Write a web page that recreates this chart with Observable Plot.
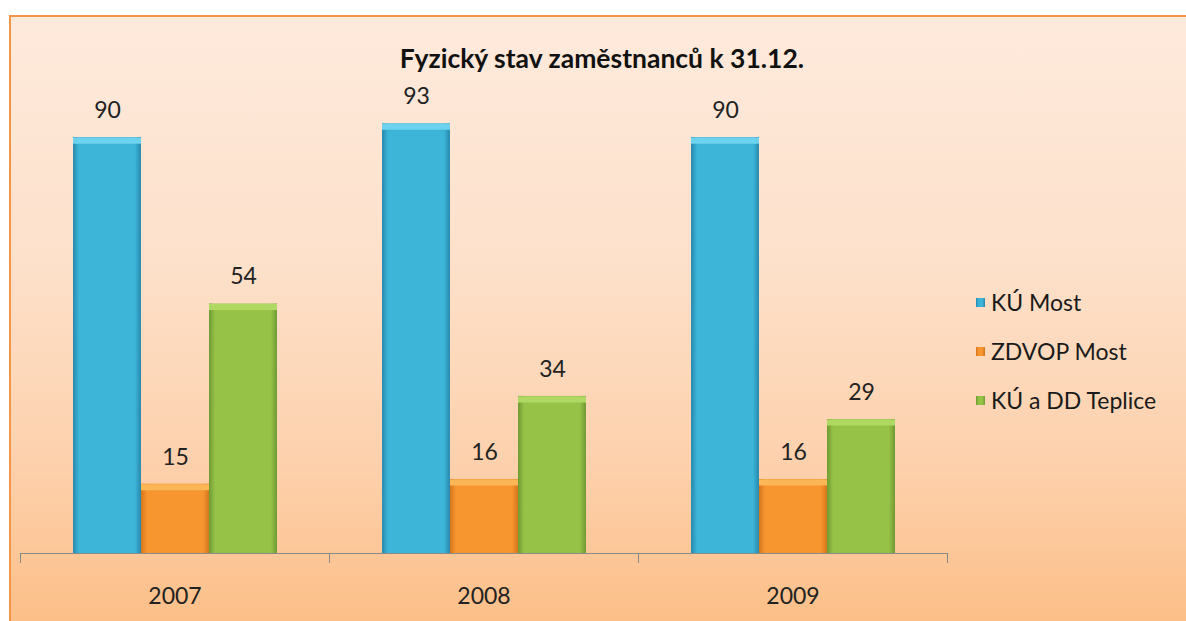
<!DOCTYPE html>
<html><head><meta charset="utf-8">
<script src="https://cdn.jsdelivr.net/npm/d3@7"></script>
<script src="https://cdn.jsdelivr.net/npm/@observablehq/plot@0.6"></script>
<style>
body{margin:0;background:#fff;font-family:Lato,"Open Sans",sans-serif;width:1186px;height:621px;overflow:hidden;position:relative;}
#frame{position:absolute;left:9px;top:15px;width:1177px;height:606px;border-left:2px solid #f49648;border-top:2px solid #f49648;background:linear-gradient(#feeadc,#fde1cb 40%,#fdd0ab 75%,#fcbf88);box-sizing:border-box;}
#chart{position:absolute;left:0;top:0;}
#title{position:absolute;top:43px;left:0;width:1204px;text-align:center;font-weight:bold;font-size:26.5px;line-height:30px;color:#111;}
#legend{position:absolute;left:976px;top:288px;font-size:23px;color:#1a1a1a;}
#legend .row{display:flex;align-items:center;height:28px;margin-bottom:21px;}
#legend .sw{width:9px;height:9px;margin-right:6px;}
</style></head>
<body>
<div id="frame"></div>
<div id="chart"></div>
<div id="title">Fyzický stav zaměstnanců k 31.12.</div>
<div id="legend"></div>
<script>
const years = ["2007", "2008", "2009"];
const series = ["KÚ Most", "ZDVOP Most", "KÚ a DD Teplice"];
const kuMost = [90, 93, 90];
const zdvopMost = [15, 16, 16];
const kuDdTeplice = [54, 34, 29];
const mainColors = ["#3cb5d9", "#f7952f", "#96c248"];
const edgeColors = ["#2889ad", "#d4761c", "#6f9a33"];
const bevelColors = ["#6cd2ee", "#fbb657", "#b0d964"];

const valuesBySeries = [kuMost, zdvopMost, kuDdTeplice];
const table = years.flatMap((year, i) =>
  series.map((s, j) => ({year, series: s, value: valuesBySeries[j][i]})));

const plot = Plot.plot({
  width: 1186, height: 621,
  marginLeft: 20, marginRight: 239, marginTop: 91, marginBottom: 68,
  style: {background: "transparent", fontFamily: "Lato, sans-serif", overflow: "visible", color: "#222"},
  fx: {domain: years, padding: 0, label: null},
  x: {domain: series, paddingInner: 0, paddingOuter: 0.75, axis: null},
  y: {domain: [0, 100], axis: null},
  color: {domain: series, range: series.map((d, i) => `url(#grad${i})`)},
  marks: [
    Plot.barY(table, {fx: "year", x: "series", y: "value", fill: "series"}),
    ...series.map((s, i) => Plot.tickY(table.filter(d => d.series === s),
      {fx: "year", x: "series", y: "value", stroke: bevelColors[i], strokeWidth: 6, dy: 3})),
    Plot.ruleY([0], {stroke: "#8a8a8a"}),
    Plot.axisFx({anchor: "bottom", tickSize: 0, tickPadding: 34, fontSize: 23, label: null}),
    Plot.axisFx({anchor: "bottom", tickSize: 10, tickFormat: () => "", dx: -154.5, stroke: "#8a8a8a", label: null}),
    Plot.axisFx({anchor: "bottom", ticks: ["2009"], tickSize: 10, tickFormat: () => "", dx: 154.5, stroke: "#8a8a8a", label: null}),
    Plot.text(table, {fx: "year", x: "series", y: "value", text: "value", dy: -27, fontSize: 23, fill: "#222"})
  ]
});

const defs = d3.select(plot).insert("defs", ":first-child");
series.forEach((s, i) => {
  const g = defs.append("linearGradient").attr("id", `grad${i}`).attr("x1", 0).attr("x2", 1).attr("y1", 0).attr("y2", 0);
  g.append("stop").attr("offset", 0).attr("stop-color", edgeColors[i]);
  g.append("stop").attr("offset", 0.09).attr("stop-color", mainColors[i]);
  g.append("stop").attr("offset", 0.91).attr("stop-color", mainColors[i]);
  g.append("stop").attr("offset", 1).attr("stop-color", edgeColors[i]);
});
document.getElementById("chart").appendChild(plot);

const legend = d3.select("#legend");
series.forEach((s, i) => {
  const row = legend.append("div").attr("class", "row");
  row.append("div").attr("class", "sw").style("background", `linear-gradient(90deg, ${edgeColors[i]}, ${mainColors[i]} 30%, ${mainColors[i]} 70%, ${edgeColors[i]})`);
  row.append("span").text(s);
});
</script>
</body></html>
